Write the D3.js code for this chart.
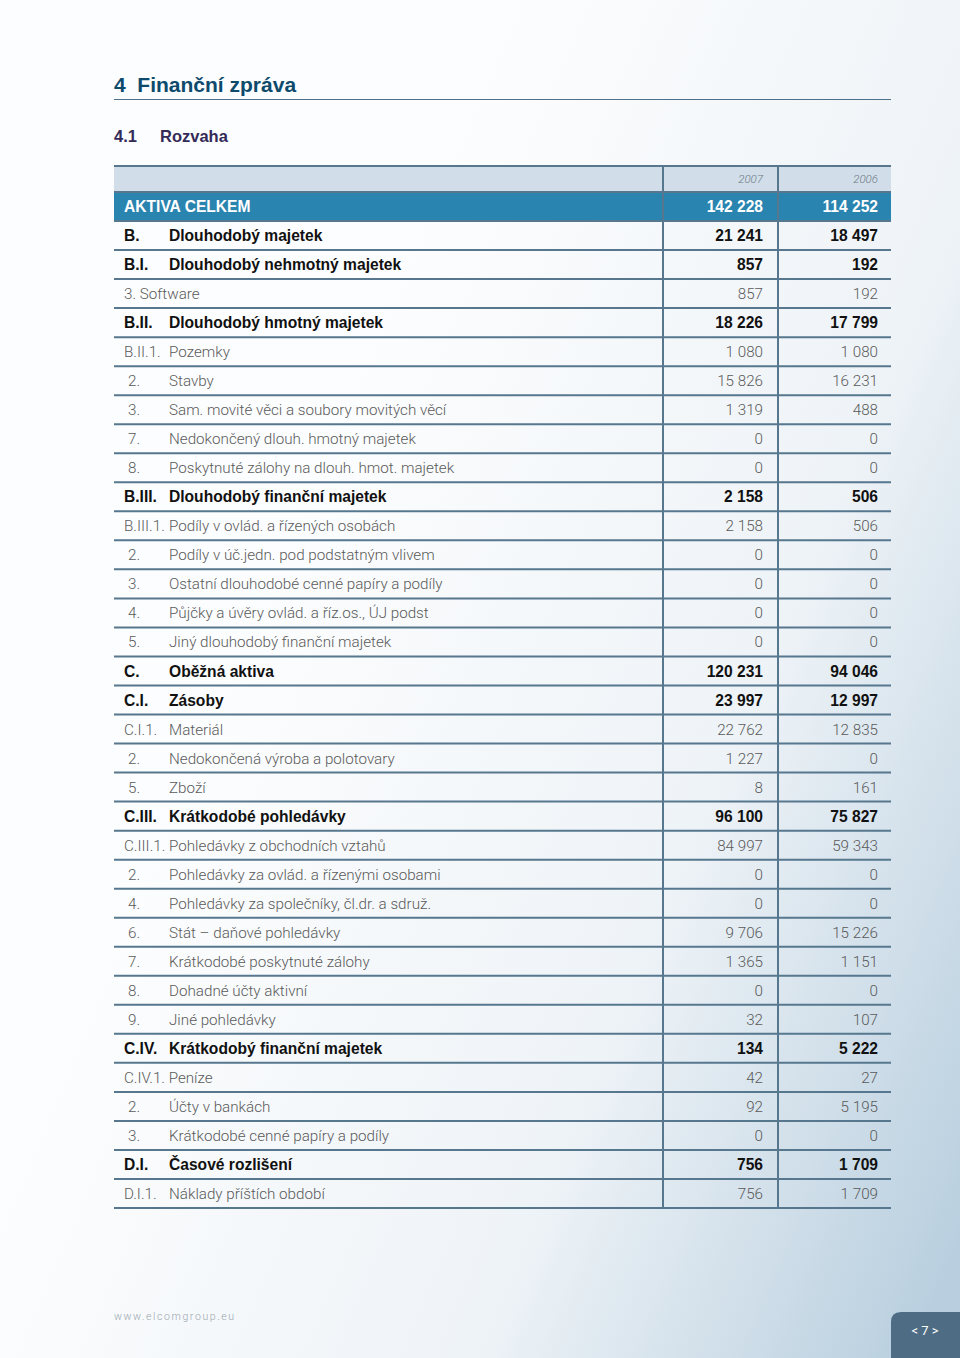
<!DOCTYPE html>
<html>
<head>
<meta charset="utf-8">
<script src="https://cdn.jsdelivr.net/npm/d3@7"></script>
<style>
	html, body { margin: 0; padding: 0; }
	body { width: 960px; height: 1358px; overflow: hidden; }
</style>
</head>
<body>
<div id="content"></div>
<script>
// Table data
var years = ["2007", "2006"];
var totalLabel = "AKTIVA CELKEM";
var totalValues = ["142 228", "114 252"];

var codes = ["B.", "B.I.", "3. Software", "B.II.", "B.II.1.", "2.", "3.", "7.", "8.",
	"B.III.", "B.III.1.", "2.", "3.", "4.", "5.",
	"C.", "C.I.", "C.I.1.", "2.", "5.", "C.III.", "C.III.1.", "2.", "4.", "6.", "7.", "8.", "9.",
	"C.IV.", "C.IV.1. Peníze", "2.", "3.", "D.I.", "D.I.1."];
var labels = ["Dlouhodobý majetek", "Dlouhodobý nehmotný majetek", "", "Dlouhodobý hmotný majetek",
	"Pozemky", "Stavby", "Sam. movité věci a soubory movitých věcí", "Nedokončený dlouh. hmotný majetek",
	"Poskytnuté zálohy na dlouh. hmot. majetek", "Dlouhodobý finanční majetek",
	"Podíly v ovlád. a řízených osobách", "Podíly v úč.jedn. pod podstatným vlivem",
	"Ostatní dlouhodobé cenné papíry a podíly", "Půjčky a úvěry ovlád. a říz.os., ÚJ podst",
	"Jiný dlouhodobý finanční majetek", "Oběžná aktiva", "Zásoby", "Materiál",
	"Nedokončená výroba a polotovary", "Zboží", "Krátkodobé pohledávky",
	"Pohledávky z obchodních vztahů", "Pohledávky za ovlád. a řízenými osobami",
	"Pohledávky za společníky, čl.dr. a sdruž.", "Stát – daňové pohledávky",
	"Krátkodobé poskytnuté zálohy", "Dohadné účty aktivní", "Jiné pohledávky",
	"Krátkodobý finanční majetek", "", "Účty v bankách", "Krátkodobé cenné papíry a podíly",
	"Časové rozlišení", "Náklady příštích období"];
var values2007 = ["21 241", "857", "857", "18 226", "1 080", "15 826", "1 319", "0", "0",
	"2 158", "2 158", "0", "0", "0", "0",
	"120 231", "23 997", "22 762", "1 227", "8", "96 100", "84 997", "0", "0", "9 706", "1 365", "0", "32",
	"134", "42", "92", "0", "756", "756"];
var values2006 = ["18 497", "192", "192", "17 799", "1 080", "16 231", "488", "0", "0",
	"506", "506", "0", "0", "0", "0",
	"94 046", "12 997", "12 835", "0", "161", "75 827", "59 343", "0", "0", "15 226", "1 151", "0", "107",
	"5 222", "27", "5 195", "0", "1 709", "1 709"];

function main() {
	var width = 960, height = 1358;
	var svg = d3.select("#content").append("svg")
		.attr("width", width)
		.attr("height", height);

	drawBackground(svg, width, height);
	drawHeadings(svg);
	drawTable(svg);
	drawFooter(svg, width, height);
}

function drawBackground(svg, width, height) {
	var defs = svg.append("defs");
	var grad = defs.append("linearGradient")
		.attr("id", "bg")
		.attr("x1", "0.2").attr("y1", "0.55")
		.attr("x2", "0.95").attr("y2", "1");
	grad.append("stop").attr("offset", "0").attr("stop-color", "#fcfdfe");
	grad.append("stop").attr("offset", "0.55").attr("stop-color", "#eef3f7");
	grad.append("stop").attr("offset", "1").attr("stop-color", "#b9cfdf");

	svg.append("rect")
		.attr("width", width).attr("height", height)
		.attr("fill", "url(#bg)");
}

function drawHeadings(svg) {
	svg.append("text")
		.attr("x", 114).attr("y", 92)
		.attr("font-family", "Liberation Sans, Arial, sans-serif")
		.attr("font-weight", "bold")
		.attr("font-size", 21)
		.attr("fill", "#0d4a6c")
		.text("4  Finanční zpráva")
		.attr("xml:space", "preserve");

	svg.append("line")
		.attr("x1", 114).attr("x2", 891)
		.attr("y1", 99.5).attr("y2", 99.5)
		.attr("stroke", "#4e7088").attr("stroke-width", 1.2);

	var sub = svg.append("g")
		.attr("font-family", "Liberation Sans, Arial, sans-serif")
		.attr("font-weight", "bold")
		.attr("font-size", 16.5)
		.attr("fill", "#342a58");
	sub.append("text").attr("x", 114).attr("y", 142).text("4.1");
	sub.append("text").attr("x", 160).attr("y", 142).text("Rozvaha");
}

function isBold(code) {
	return /^[A-D]\.([IV]+\.)?$/.test(code);
}

function drawTable(svg) {
	var left = 114, right = 891;
	var headTop = 166, headBottom = 192, bottom = 1208;
	var lineColor = "#56778e";

	var x = d3.scaleOrdinal()
		.domain(["code", "label", "2007", "2006"])
		.range([124, 169, 763, 878]);
	var colEdges = [663, 778];

	var rowKeys = ["total"].concat(codes.map(function (d, i) { return "r" + i; }));
	var y = d3.scaleBand()
		.domain(rowKeys)
		.range([headBottom, bottom]);

	// header band
	svg.append("rect")
		.attr("x", left).attr("y", headTop)
		.attr("width", right - left).attr("height", headBottom - headTop)
		.attr("fill", "#d1deea");

	svg.selectAll(".yearLabel")
		.data(years)
		.enter().append("text")
		.attr("class", "yearLabel")
		.attr("x", function (d) { return x(d); })
		.attr("y", 183)
		.attr("text-anchor", "end")
		.attr("font-family", "Roboto, sans-serif")
		.attr("font-weight", 300)
		.attr("font-style", "italic")
		.attr("font-size", 11.5)
		.attr("fill", "#6f7a84")
		.text(function (d) { return d; });

	// total row
	svg.append("rect")
		.attr("x", left).attr("y", y("total"))
		.attr("width", right - left).attr("height", y.bandwidth())
		.attr("fill", "#2a84b0");

	var totalG = svg.append("g")
		.attr("font-family", "Liberation Sans, Arial, sans-serif")
		.attr("font-weight", "bold")
		.attr("font-size", 15.6)
		.attr("fill", "#ffffff");
	totalG.append("text")
		.attr("x", x("code"))
		.attr("y", y("total") + y.bandwidth() / 2)
		.attr("dy", "0.36em")
		.text(totalLabel);
	totalG.selectAll(".tv")
		.data(totalValues)
		.enter().append("text")
		.attr("x", function (d, i) { return x(years[i]); })
		.attr("y", y("total") + y.bandwidth() / 2)
		.attr("dy", "0.36em")
		.attr("text-anchor", "end")
		.text(function (d) { return d; });

	// body rows
	var rows = svg.selectAll(".row")
		.data(codes.map(function (c, i) {
			return { key: "r" + i, code: c, label: labels[i], v1: values2007[i], v2: values2006[i], bold: isBold(c) };
		}))
		.enter().append("g")
		.attr("class", "row")
		.attr("transform", function (d) { return "translate(0," + (y(d.key) + y.bandwidth() / 2) + ")"; })
		.attr("font-family", function (d) { return d.bold ? "Liberation Sans, Arial, sans-serif" : "Roboto, sans-serif"; })
		.attr("font-weight", function (d) { return d.bold ? "bold" : 300; })
		.attr("font-size", function (d) { return d.bold ? 15.6 : 15.2; })
		.attr("fill", function (d) { return d.bold ? "#111111" : "#5a5a5a"; });

	rows.append("text")
		.attr("x", function (d) { return /^\d\.$/.test(d.code) ? x("code") + 4 : x("code"); })
		.attr("dy", "0.36em")
		.text(function (d) { return d.code; });
	rows.append("text")
		.attr("x", x("label"))
		.attr("dy", "0.36em")
		.text(function (d) { return d.label; });
	rows.append("text")
		.attr("x", x("2007"))
		.attr("dy", "0.36em")
		.attr("text-anchor", "end")
		.text(function (d) { return d.v1; });
	rows.append("text")
		.attr("x", x("2006"))
		.attr("dy", "0.36em")
		.attr("text-anchor", "end")
		.text(function (d) { return d.v2; });

	// grid lines
	var hLines = [headTop, headBottom].concat(rowKeys.slice(1).map(function (k) { return y(k); })).concat([bottom]);
	svg.selectAll(".hline")
		.data(hLines)
		.enter().append("line")
		.attr("class", "hline")
		.attr("x1", left).attr("x2", right)
		.attr("y1", function (d) { return d; })
		.attr("y2", function (d) { return d; })
		.attr("stroke", lineColor)
		.attr("stroke-width", 2);

	svg.selectAll(".vline")
		.data(colEdges)
		.enter().append("line")
		.attr("class", "vline")
		.attr("x1", function (d) { return d; })
		.attr("x2", function (d) { return d; })
		.attr("y1", headTop).attr("y2", bottom)
		.attr("stroke", lineColor)
		.attr("stroke-width", 2);
}

function drawFooter(svg, width, height) {
	svg.append("text")
		.attr("x", 114).attr("y", 1320)
		.attr("font-family", "Roboto, sans-serif")
		.attr("font-weight", 300)
		.attr("font-size", 10.5)
		.attr("letter-spacing", 1.6)
		.attr("fill", "#9aa6b0")
		.text("www.elcomgroup.eu");

	var r = 10, bx = 891, by = 1312;
	svg.append("path")
		.attr("d", "M" + bx + "," + height + "V" + (by + r) + "Q" + bx + "," + by + " " + (bx + r) + "," + by + "H" + width + "V" + height + "Z")
		.attr("fill", "#4e6d84");
	svg.append("text")
		.attr("x", 925).attr("y", 1335)
		.attr("text-anchor", "middle")
		.attr("font-family", "Roboto, sans-serif")
		.attr("font-size", 13)
		.attr("fill", "#ffffff")
		.text("< 7 >");
}

(() => {
	main();
})()
</script>
</body>
</html>
